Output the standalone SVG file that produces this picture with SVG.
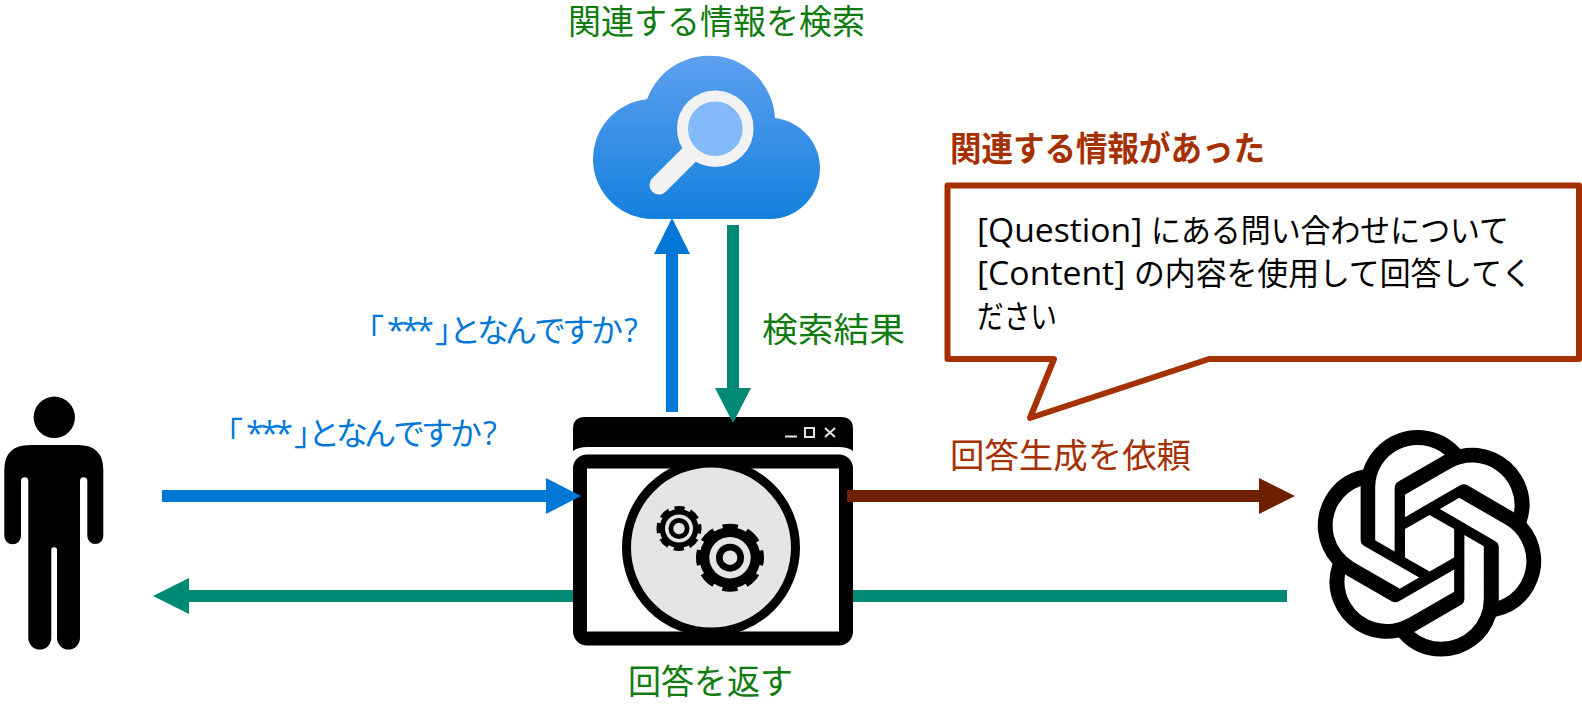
<svg xmlns="http://www.w3.org/2000/svg" width="1582" height="708" viewBox="0 0 1582 708">
<style>
text{font-family:"Open Sans","Noto Sans CJK JP",sans-serif;font-size:34px}
.g{fill:#107c10}.b{fill:#0078d7;font-size:32px}.r{fill:#a53000}.k{fill:#000;font-size:32px}
</style>
<defs><linearGradient id="cg" x1="0" y1="0" x2="0" y2="1"><stop offset="0" stop-color="#5ea0ef"/><stop offset="1" stop-color="#1380de"/></linearGradient></defs>
<rect width="1582" height="708" fill="#fff"/>
<g id="search-cloud">
<path d="M653 219A60 60 0 0 1 647 99.3A66 66 0 0 1 775 118C800 121 820 142 820 168C820 196 798 219 770 219Z" fill="url(#cg)"/>
<line x1="659" y1="185" x2="695" y2="149" stroke="#f2f2f2" stroke-width="19" stroke-linecap="round"/>
<circle cx="715.3" cy="128.7" r="32.8" fill="#83b9f9" stroke="#f2f2f2" stroke-width="11"/>
</g>
<g id="user">
<circle cx="54.3" cy="417.3" r="20.7"/>
<path d="M30 445H78Q103.3 445 103.3 470V536A8 8 0 0 1 87.3 536V481A3.65 3.65 0 0 0 80 481V638A11.5 11.5 0 0 1 57 638V550A2.85 2.85 0 0 0 51.3 550V638A11.5 11.5 0 0 1 28.3 638V481A3.65 3.65 0 0 0 21 481V536A8.35 8.35 0 0 1 4.3 536V470Q4.3 445 30 445Z"/>
</g>
<g id="app-window">
<path d="M573 451V429Q573 417 585 417H841Q853 417 853 429V451Q848 447 838 447H588Q578 447 573 451Z"/>
<rect x="580" y="461.5" width="266" height="177" rx="7" fill="#fff" stroke="#000" stroke-width="14"/>
<circle cx="711" cy="547.5" r="84.5" fill="#e5e5e5" stroke="#000" stroke-width="9"/>
<path d="M785 436.5H797" stroke="#e5e5e5" stroke-width="2" fill="none"/>
<rect x="805" y="428" width="9" height="9" stroke="#e5e5e5" stroke-width="2" fill="none"/>
<path d="M825 428L835 437M835 428L825 437" stroke="#e5e5e5" stroke-width="2" fill="none"/>
<circle cx="679" cy="528.5" r="19.5"/>
<circle cx="679" cy="528.5" r="20" fill="none" stroke="#000" stroke-width="5" stroke-dasharray="10 5.7" stroke-dashoffset="5"/>
<circle cx="679" cy="528.5" r="14" fill="#e5e5e5"/><circle cx="679" cy="528.5" r="10.5"/><circle cx="679" cy="528.5" r="5.7" fill="#e5e5e5"/>
<circle cx="730" cy="557.7" r="30.5"/>
<circle cx="730" cy="557.7" r="31" fill="none" stroke="#000" stroke-width="6" stroke-dasharray="15 9.35" stroke-dashoffset="7.5"/>
<circle cx="730" cy="557.7" r="20.7" fill="#e5e5e5"/><circle cx="730" cy="557.7" r="14"/><circle cx="730" cy="557.7" r="7.3" fill="#e5e5e5"/>
</g>
<g id="openai">
<path transform="translate(1316.2 430) scale(9.44)" d="M22.2819 9.8211a5.9847 5.9847 0 0 0-.5157-4.9108 6.0462 6.0462 0 0 0-6.5098-2.9A6.0651 6.0651 0 0 0 4.9807 4.1818a5.9847 5.9847 0 0 0-3.9977 2.9 6.0462 6.0462 0 0 0 .7427 7.0966 5.98 5.98 0 0 0 .511 4.9107 6.051 6.051 0 0 0 6.5146 2.9001A5.9847 5.9847 0 0 0 13.2599 24a6.0557 6.0557 0 0 0 5.7718-4.2058 5.9894 5.9894 0 0 0 3.9977-2.9001 6.0557 6.0557 0 0 0-.7475-7.0729zm-9.022 12.6081a4.4755 4.4755 0 0 1-2.8764-1.0408l.1419-.0804 4.7783-2.7582a.7948.7948 0 0 0 .3927-.6813v-6.7369l2.02 1.1686a.071.071 0 0 1 .038.052v5.5826a4.504 4.504 0 0 1-4.4945 4.4944zm-9.6607-4.1254a4.4708 4.4708 0 0 1-.5346-3.0137l.142.0852 4.783 2.7582a.7712.7712 0 0 0 .7806 0l5.8428-3.3685v2.3324a.0804.0804 0 0 1-.0332.0615L9.74 19.9502a4.4992 4.4992 0 0 1-6.1408-1.6464zM2.3408 7.8956a4.485 4.485 0 0 1 2.3655-1.9728V11.6a.7664.7664 0 0 0 .3879.6765l5.8144 3.3543-2.0201 1.1685a.0757.0757 0 0 1-.071 0l-4.8303-2.7865A4.504 4.504 0 0 1 2.3408 7.872zm16.5963 3.8558L13.1038 8.364 15.1192 7.2a.0757.0757 0 0 1 .071 0l4.8303 2.7913a4.4944 4.4944 0 0 1-.6765 8.1042v-5.6772a.79.79 0 0 0-.407-.667zm2.0107-3.0231l-.142-.0852-4.7735-2.7818a.7759.7759 0 0 0-.7854 0L9.409 9.2297V6.8974a.0662.0662 0 0 1 .0284-.0615l4.8303-2.7866a4.4992 4.4992 0 0 1 6.6802 4.66zM8.3065 12.863l-2.02-1.1638a.0804.0804 0 0 1-.038-.0567V6.0742a4.4992 4.4992 0 0 1 7.3757-3.4537l-.142.0805L8.704 5.459a.7948.7948 0 0 0-.3927.6813zm1.0976-2.3654l2.602-1.4998 2.6069 1.4998v2.9994l-2.5974 1.4997-2.6067-1.4997Z"/>
</g>
<g id="connectors">
<path d="M162 490H546V478L581 496L546 514V502H162Z" fill="#0078d7"/>
<path d="M573 590H189V578L153 596L189 614V602H573Z" fill="#008975"/>
<rect x="853" y="590" width="434" height="12" fill="#008975"/>
<path d="M847 490H1259V478L1295 496L1259 514V502H847Z" fill="#6e2000"/>
<path d="M666 412V254H654L672 218L690 254H678V412Z" fill="#0078d7"/>
<path d="M727 225V388H715L733 423L751 388H739V225Z" fill="#008975"/>
</g>
<g id="callout">
<path d="M947.5 185.5H1579V359H1209L1030 418L1054 359H947.5Z" fill="#fff" stroke="#a53000" stroke-width="6" stroke-linejoin="round"/>
<text class="k" y="242"><tspan x="977" textLength="174" lengthAdjust="spacingAndGlyphs">[Question] </tspan><tspan x="1151" textLength="358" lengthAdjust="spacingAndGlyphs">にある問い合わせについて</tspan></text>
<text class="k" y="285"><tspan x="977" textLength="157" lengthAdjust="spacingAndGlyphs">[Content] </tspan><tspan x="1134" textLength="398" lengthAdjust="spacingAndGlyphs">の内容を使用して回答してく</tspan></text>
<text class="k" x="977" y="328" textLength="80" lengthAdjust="spacingAndGlyphs">ださい</text>
</g>
<g id="labels">
<text class="g" x="568" y="34" textLength="297" lengthAdjust="spacingAndGlyphs">関連する情報を検索</text>
<text class="r" x="950" y="161" textLength="315" lengthAdjust="spacingAndGlyphs" style="font-weight:700">関連する情報があった</text>
<text class="b" y="342" x="352 387 401.7 416.3 435 449 477 505 534 562 591 624">「***」となんですか?</text>
<text class="g" x="762" y="342" textLength="143" lengthAdjust="spacingAndGlyphs">検索結果</text>
<text class="b" y="445" x="211 246 260.7 275.3 294 308 336 364 393 421 450 483">「***」となんですか?</text>
<text class="r" x="950" y="468" textLength="241" lengthAdjust="spacingAndGlyphs">回答生成を依頼</text>
<text class="g" x="628" y="694" textLength="165" lengthAdjust="spacingAndGlyphs">回答を返す</text>
</g>
</svg>
